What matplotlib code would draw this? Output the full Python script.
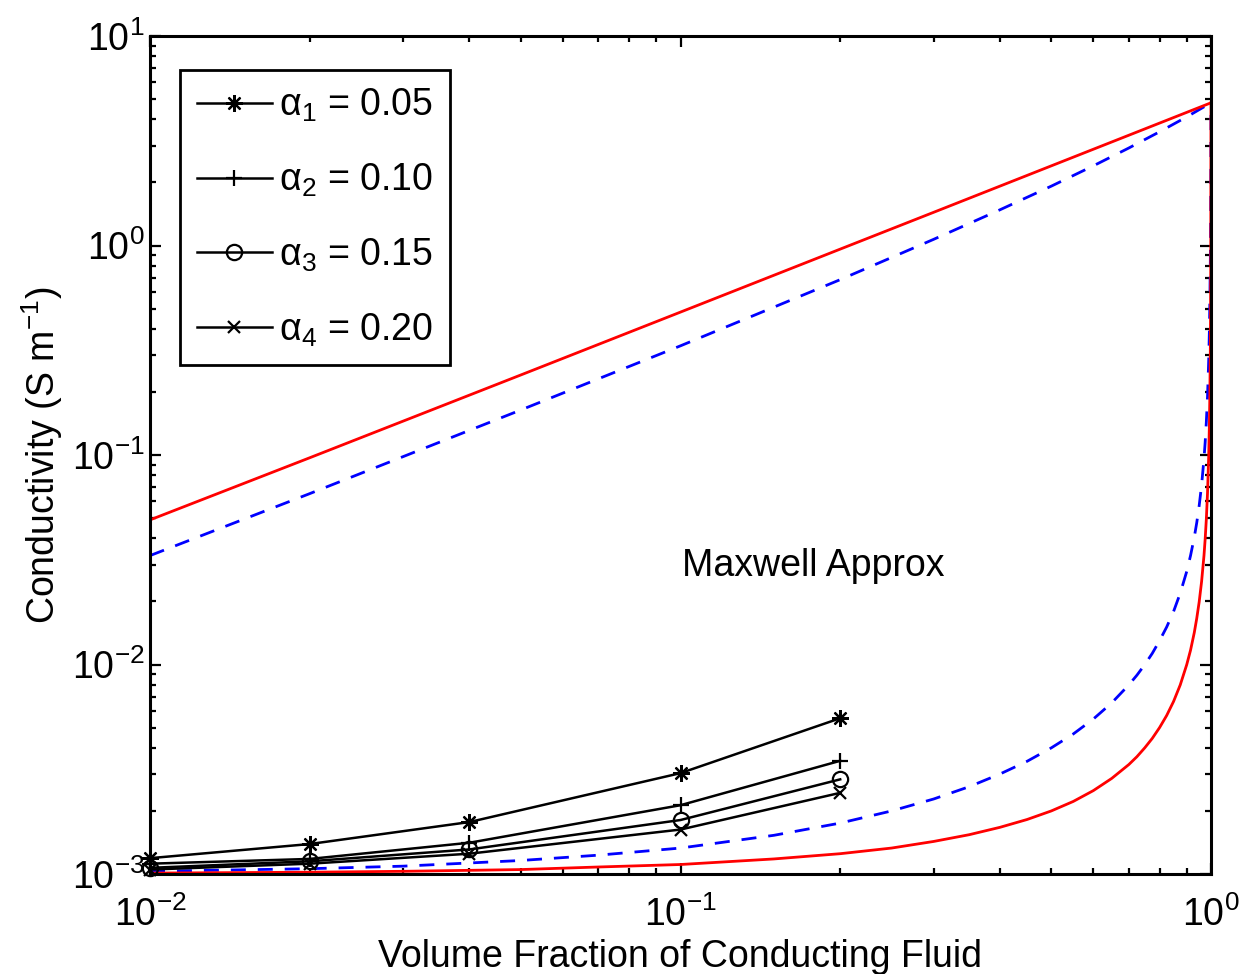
import numpy as np
import matplotlib
matplotlib.use('Agg')
import matplotlib.pyplot as plt

plt.rcParams['font.family'] = ['Liberation Sans', 'DejaVu Sans']
plt.rcParams['mathtext.fontset'] = 'custom'
plt.rcParams['mathtext.rm'] = 'Liberation Sans'
plt.rcParams['mathtext.it'] = 'Liberation Sans:italic'
plt.rcParams['mathtext.bf'] = 'Liberation Sans:bold'
plt.rcParams['font.size'] = 27

# measured conductivities
phi_meas = [0.01, 0.02, 0.04, 0.1, 0.2]
sig_a1 = [0.00119, 0.00139, 0.00177, 0.00303, 0.00554]
sig_a2 = [0.00112, 0.00118, 0.00141, 0.00213, 0.00347]
sig_a3 = [0.00107, 0.00115, 0.00131, 0.00181, 0.00283]
sig_a4 = [0.00105, 0.00112, 0.00125, 0.00163, 0.00244]
alpha_labels = ['α$_1$ = 0.05', 'α$_2$ = 0.10', 'α$_3$ = 0.15', 'α$_4$ = 0.20']

# upper bounds
phi_up = [0.01, 0.02, 0.05, 0.1, 0.2, 0.3, 0.4, 0.5, 0.6, 0.7, 0.8, 0.9, 1.0]
sig_par = [0.0490, 0.0970, 0.241, 0.481, 0.961, 1.44, 1.92, 2.40, 2.88, 3.36, 3.84, 4.32, 4.80]
sig_hs_up = [0.0331, 0.0654, 0.164, 0.332, 0.687, 1.07, 1.48, 1.92, 2.40, 2.92, 3.49, 4.11, 4.80]

# lower bounds
phi_low = [0.01, 0.02, 0.03, 0.05, 0.07, 0.1, 0.15, 0.2, 0.25, 0.3, 0.35, 0.4, 0.45,
           0.5, 0.55, 0.6, 0.65, 0.7, 0.725, 0.75, 0.775, 0.8, 0.825, 0.85, 0.875,
           0.9, 0.915, 0.93, 0.94, 0.95, 0.96, 0.97, 0.975, 0.98, 0.985, 0.99,
           0.993, 0.995, 0.997, 0.998, 0.999, 1.0]
sig_series = [0.00101, 0.00102, 0.00103, 0.00105, 0.00108, 0.00111, 0.00118, 0.00125,
              0.00133, 0.00143, 0.00154, 0.00167, 0.00182, 0.00200, 0.00222, 0.00250,
              0.00286, 0.00333, 0.00363, 0.00400, 0.00444, 0.00500, 0.00571, 0.00666,
              0.00799, 0.00998, 0.0117, 0.0142, 0.0166, 0.0199, 0.0249, 0.0331, 0.0397,
              0.0495, 0.0658, 0.0980, 0.139, 0.192, 0.312, 0.453, 0.828, 4.80]
sig_hs_low = [0.00103, 0.00106, 0.00109, 0.00116, 0.00123, 0.00133, 0.00153, 0.00175,
              0.00200, 0.00228, 0.00261, 0.00300, 0.00345, 0.00400, 0.00466, 0.00549,
              0.00656, 0.00799, 0.00889, 0.00998, 0.0113, 0.0130, 0.0151, 0.0179,
              0.0219, 0.0278, 0.0331, 0.0405, 0.0475, 0.0573, 0.0719, 0.0960, 0.115,
              0.144, 0.190, 0.281, 0.392, 0.532, 0.826, 1.14, 1.85, 4.80]

fig = plt.figure(figsize=(12.46, 9.74), dpi=100)
ax = fig.add_axes([150/1246, 1-874/974, 1061/1246, 838/974])

dash = (5.4, 4.3)
ax.plot(phi_up, sig_hs_up, color='b', lw=2, dashes=dash)
ax.plot(phi_low, sig_hs_low, color='b', lw=2, dashes=dash)
ax.plot(phi_up, sig_par, color='r', lw=2)
ax.plot(phi_low, sig_series, color='r', lw=2)

markers = [(8, 2, 0), '+', 'o', 'x']
msizes = [12, 12, 11, 9]
handles = []
for sig, m, ms, lab in zip([sig_a1, sig_a2, sig_a3, sig_a4], markers, msizes, alpha_labels):
    h, = ax.plot(phi_meas, sig, color='k', lw=1.8, marker=m, ms=ms, mew=1.6,
                 mfc='none', mec='k', clip_on=False, label=lab, zorder=5)
    handles.append(h)

ax.text(0.1007, 0.0295, 'Maxwell Approx', fontsize=27, ha='left', va='center')

ax.set_xscale('log')
ax.set_yscale('log')
ax.set_xlim(0.01, 1)
ax.set_ylim(1e-3, 10)
ax.set_xlabel('Volume Fraction of Conducting Fluid', labelpad=4)
ax.set_ylabel(r'Conductivity (S m$^{-1}$)', labelpad=5)

for s in ax.spines.values():
    s.set_linewidth(2.2)
ax.tick_params(which='both', direction='in', top=True, right=True, width=1.6)
ax.tick_params(which='major', length=8)
ax.tick_params(which='minor', length=4.5)
ax.tick_params(axis='x', which='major', pad=16)
ax.tick_params(axis='y', which='major', pad=4)

leg = ax.legend(handles=handles, loc='upper left', bbox_to_anchor=(30/1061, 1-34/838),
                borderaxespad=0, fancybox=False, framealpha=1, edgecolor='k',
                handlelength=2.0, handletextpad=0.2, labelspacing=1.0,
                borderpad=0.45, numpoints=1)
leg.get_frame().set_linewidth(2)

fig.savefig('out.png', dpi=100)
